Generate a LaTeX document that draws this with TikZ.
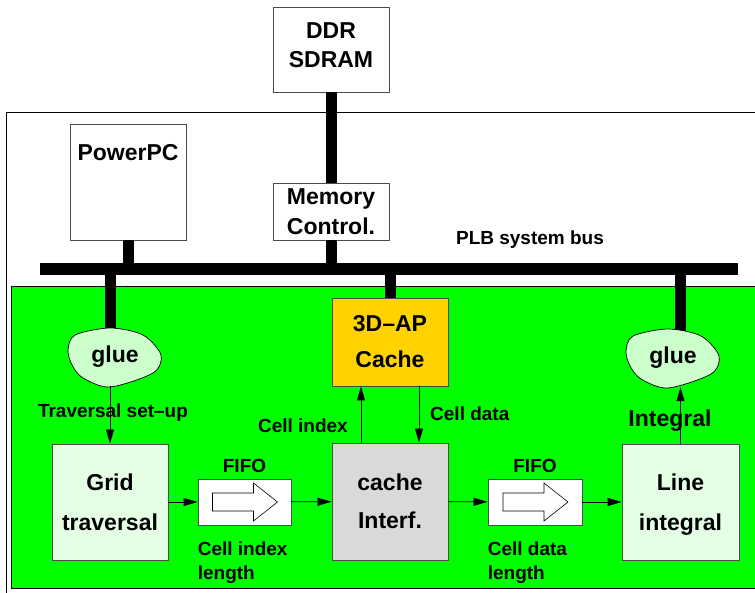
\documentclass[tikz,border=0pt]{standalone}
\usepackage{fontspec}
\setmainfont{Liberation Sans}
\usetikzlibrary{positioning,arrows.meta,calc}
\definecolor{apgold}{RGB}{255,210,0}
\definecolor{fpgagreen}{RGB}{0,255,0}
\newcommand{\boxfont}[1]{\fontsize{23}{#1}\selectfont\bfseries}
\tikzset{
  every node/.style={font=\fontsize{19}{24}\selectfont\bfseries},
  blk/.style={
    draw=black!70, line width=0.8pt, fill=#1, align=center,
    inner sep=0pt, minimum width=116, minimum height=116
  },
  fifo/.style={
    draw=black!70, line width=0.8pt, fill=white,
    inner sep=0pt, minimum width=93, minimum height=46
  },
  bus/.style={fill=black, inner sep=0pt, minimum height=12},
  stub/.style={line width=11pt, draw=black},
  arr/.style={-{Triangle[length=14pt,width=8pt]}, line width=0.7pt, draw=black},
  lbl/.style={inner sep=0pt},
  gluetxt/.style={inner sep=0pt, minimum width=94, minimum height=58, font=\boxfont{28}},
  glueblob/.pic={
    \draw[black, line width=0.7pt, fill=green!20] plot[smooth cycle] coordinates
      {(-47,-7) (-40,-22) (-5,-29) (28,-22) (46,-2) (38,16) (-5,30) (-32,21) (-43,8)};
  },
  fifoarrow/.pic={
    \draw[black, line width=0.6pt, fill=white]
      (-32,-9) -- (9,-9) -- (9,-19) -- (33,0) -- (9,19) -- (9,9) -- (-32,9) -- cycle;
  }
}

\begin{document}
\begin{tikzpicture}[x=1pt, y=-1pt]
\useasboundingbox (0,0) rectangle (755,592);

% chip frame and FPGA fabric
\draw[line width=0.8pt] (760,112) -| (6,600);
\draw[line width=0.6pt, fill=fpgagreen] (11,286) rectangle (760,588);

\node[blk=white, minimum height=85, text depth=8pt, font=\boxfont{29}] (ddr) at (331,49.5) {DDR\\SDRAM};
\node[blk=white, minimum height=57, font=\boxfont{30}] (memctl) at (331,211.5) {Memory\\Control.};
\node[blk=white] (ppc) at (128,182) {};
\node[font=\boxfont{28}, inner sep=0pt, anchor=base] (ppctxt) at ([yshift=-37pt]ppc.north) {PowerPC};
\node[bus, minimum width=698] (plb) at (389,269) {};
\node[lbl] (plbtxt) at (530,240) {PLB system bus};

\node[blk=apgold, minimum height=88, font=\boxfont{36}] (apc) at (390,342) {3D--AP\\Cache};
\node[blk=black!15, minimum height=117, font=\boxfont{38}] (cif) at (390,501.5) {cache\\Interf.};
\node[blk=green!10, font=\boxfont{40}] (grid) at (110,502) {Grid\\traversal};
\node[blk=green!10, minimum width=117, font=\boxfont{40}] (lint) at (680.5,502) {Line\\\smash{integral}};

\node[fifo] (fifoA) at (244.5,502) {};
\node[fifo, minimum width=94] (fifoB) at (535,502) {};
\pic at (fifoA.center) {fifoarrow};
\pic at (fifoB.center) {fifoarrow};

\coordinate (glueLc) at (115,357);
\coordinate (glueRc) at (673,358);

% bus stubs
\draw[stub] (ddr) -- (memctl);
\draw[stub] (memctl.south) -- (memctl.south |- plb.center);
\draw[stub] (ppc.south) -- (ppc.south |- plb.center);
\draw[stub] (apc.north) -- (apc.north |- plb.center);
\draw[stub] (grid.north |- plb.center) -- (grid.north |- glueLc);
\draw[stub] (lint.north |- plb.center) -- (lint.north |- glueRc);

\pic at (glueLc) {glueblob};
\pic at (glueRc) {glueblob};
\node[gluetxt] (glueL) at (glueLc) {glue};
\node[gluetxt] (glueR) at (glueRc) {glue};

\node[lbl, anchor=base] (trvtxt) at (113,417) {Traversal set--up};
\node[lbl, anchor=base east] (cidxtxt) at (348,432) {Cell index};
\node[lbl, anchor=base west] (cdattxt) at (430,420) {Cell data};
\node[lbl, font=\boxfont{28}, anchor=base] (inttxt) at (670,426) {Integral};
\node[lbl, above=6pt of fifoA] (fifoAtxt) {FIFO};
\node[lbl, above=6pt of fifoB] (fifoBtxt) {FIFO};
\node[lbl, align=left, anchor=north west] (fifoAlen) at ([yshift=-16pt]fifoA.south west) {Cell index\\length};
\node[lbl, align=left, anchor=north west] (fifoBlen) at ([yshift=-16pt]fifoB.south west) {Cell data\\length};

\draw[arr] (grid.north |- glueL.south) -- (grid.north);
\draw[arr] (lint.north) -- (lint.north |- glueR.south);
\draw[arr] ([xshift=-29pt]cif.north) -- ([xshift=-29pt]apc.south);
\draw[arr] ([xshift=29pt]apc.south) -- ([xshift=29pt]cif.north);
\draw[arr] (grid) -- (fifoA);
\draw[arr] (fifoA) -- (cif);
\draw[arr] (cif) -- (fifoB);
\draw[arr] (fifoB) -- (lint);

\end{tikzpicture}
\end{document}
